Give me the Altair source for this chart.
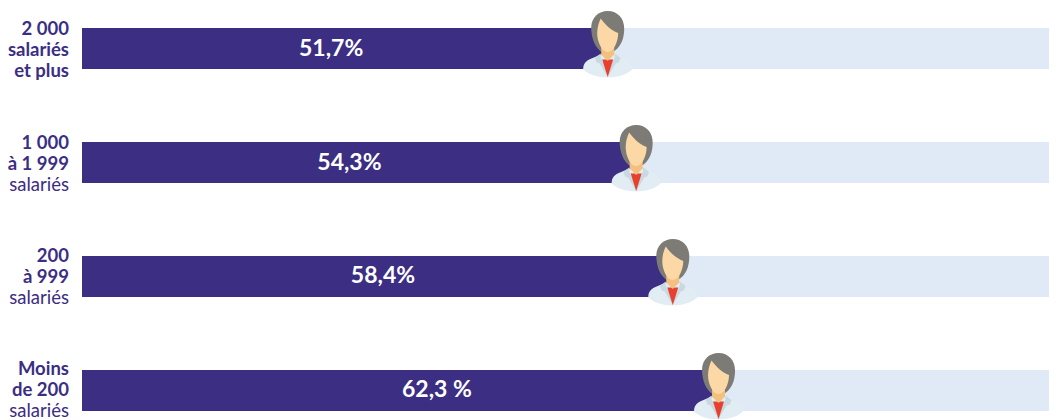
import altair as alt
import pandas as pd

categories = ["A", "B", "C", "D"]
values = [51.7, 54.3, 58.4, 62.3]
value_labels = ["51,7%", "54,3%", "58,4%", "62,3 %"]
label_pos = [24.5, 26.3, 29.6, 34.9]
avatar_pos = [51.7, 54.5, 58.1, 62.6]
full = [95.1, 95.1, 95.1, 95.1]
line1 = ["2 000", "1 000", "200", "Moins"]
line2 = ["salariés", "à 1 999", "à 999", "de 200"]
line3 = ["et plus", "salariés", "salariés", "salariés"]
line3_bold = [True, False, False, False]
off1 = [-14, -14, -14, -15]
off2 = [7, 7, 7, 6]
off3 = [28, 28, 28, 27]

DARK = "#3b2e83"
LIGHT = "#dfeaf6"
FONT = "Lato"

JACKET = "M-24.5,21 C-24.5,15 -22,12 -15,9.5 L-7,6 L7,6 L15,9.5 C22,12 24.5,15 24.5,21 C20,25.5 12,28.5 0,29 C-12,28.5 -20,25.5 -24.5,21 Z"
COLLAR = "M-7,5 L-13,9.5 L-11,14 L-8,15 L0,28.5 L8,15 L11,14 L13,9.5 L7,5 L7,9 L0,24 L-7,9 Z"
SHIRT = "M-5.5,11 L5.5,11 L0,28.5 Z"
NECK = "M-6.5,-6 L6.5,-6 L6.5,6 L0,12.5 L-6.5,6 Z"
HAIR = "M0,-37.5 C10,-37.5 16.5,-30 16.5,-20 C16.5,-11 14,-1 4,4 L-5,4 C-13,0 -16.5,-11 -16.5,-21 C-16.5,-31 -9,-37.5 0,-37.5 Z"
FACE = "M-7,-30 C-2,-23 4,-18 10.5,-15.5 C10.5,-7 6,3.5 0,3.5 C-6,3.5 -10.5,-7 -10.5,-15 C-10.5,-21 -9,-26 -7,-30 Z"

df = pd.DataFrame({
    "cat": categories, "value": values, "full": full, "label": value_labels,
    "label_pos": label_pos, "avatar": avatar_pos,
    "line1": line1, "line2": line2, "line3": line3,
})

xscale = alt.Scale(domain=[0, 95.1], nice=False)
x = alt.X("value:Q", scale=xscale, axis=None)
y = alt.Y("cat:N", sort=categories, axis=None,
          scale=alt.Scale(range=[20, 403], paddingInner=0.64, paddingOuter=0))
base = alt.Chart(df)

bg = base.mark_bar(color=LIGHT, cornerRadius=0).encode(x=alt.X("full:Q", scale=xscale, axis=None), x2=alt.value(0), y=y)
bar = base.mark_bar(color=DARK, cornerRadius=0).encode(x=x, x2=alt.value(0), y=y)
txt = base.mark_text(color="white", font=FONT, fontWeight="bold", fontSize=23, align="center", baseline="middle").encode(
    x=alt.X("label_pos:Q", scale=xscale, axis=None), y=y, text="label:N")

def side(field, row, dy, weight):
    return base.transform_filter(f"datum.cat == '{row}'").mark_text(
        color=DARK, font=FONT, fontWeight=weight, fontSize=18.5, align="right",
        baseline="alphabetic", xOffset=-13, yOffset=dy).encode(x=alt.value(0), y=y, text=f"{field}:N")

texts = []
for i, c in enumerate(categories):
    texts.append(side("line1", c, off1[i], "bold"))
    texts.append(side("line2", c, off2[i], "bold"))
    texts.append(side("line3", c, off3[i], "bold" if line3_bold[i] else "normal"))

def part(path, color):
    return base.mark_point(shape=path, size=4, filled=True, fill=color, opacity=1, strokeWidth=0).encode(
        x=alt.X("avatar:Q", scale=xscale, axis=None), y=y)

parts = [part(HAIR, "#7d7b76"), part(JACKET, "#e2edf3"), part(COLLAR, "#c8d9e2"),
         part(SHIRT, "#e8402e"), part(NECK, "#f3c07e"), part(FACE, "#fbd8a6")]

chart = alt.layer(bg, bar, txt, *texts, *parts).properties(
    width=967, height=412,
    autosize=alt.AutoSizeParams(type="none"),
    padding={"left": 74, "top": 0, "right": 0, "bottom": 0},
    background="white",
).configure_view(stroke=None)

chart.save("out.html", embed_options={"renderer": "svg", "actions": False})
